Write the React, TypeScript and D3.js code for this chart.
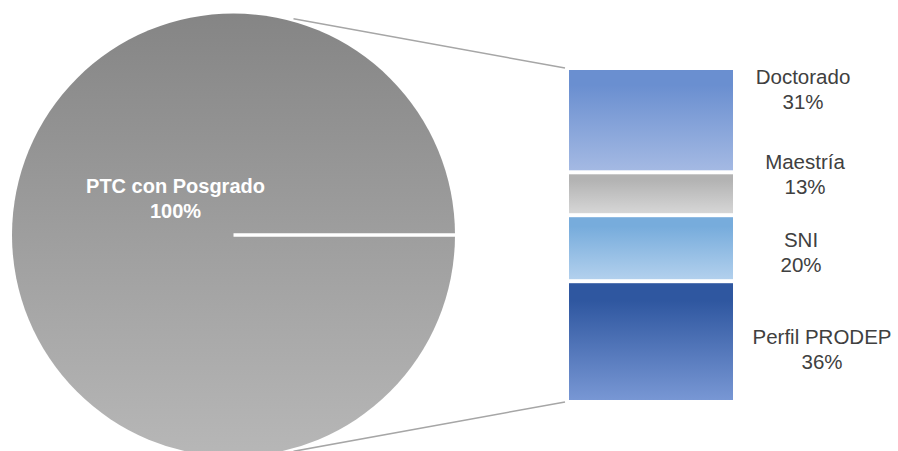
import React from "react";
import * as d3 from "d3";

// ---- data ----
const pieCategories = ["PTC con Posgrado"];
const pieValues = [100];
const barCategories = ["Doctorado", "Maestría", "SNI", "Perfil PRODEP"];
const barValues = [31, 13, 20, 36];

// ---- styles / layout ----
const W = 898;
const H = 451;
const FONT = "Arial, 'Liberation Sans', sans-serif";
const barColors: [string, string][] = [
  ["#6a8fd0", "#a4b9e3"],
  ["#b3b3b3", "#d6d6d6"],
  ["#77acdc", "#b2d0ed"],
  ["#2f57a0", "#7897d4"],
];
const labelNudges: [number, number][] = [
  [70, -37],
  [72, -24.5],
  [68, -1],
  [89, 3.5],
];

export default function App() {
  const cx = 233.5;
  const cy = 235;
  const r = 221.5;

  const pie = d3.pie<number>().sort(null).startAngle(Math.PI / 2).endAngle(Math.PI / 2 + 2 * Math.PI)(pieValues);
  const arc = d3.arc<d3.PieArcDatum<number>>().innerRadius(0).outerRadius(r);

  const barX0 = 569;
  const barX1 = 733;
  const y = d3.scaleLinear().domain([0, d3.sum(barValues)]).range([70, 400]);
  const stacked = d3.stack<number[]>().keys(barCategories.map((_, i) => String(i)))
    ([barValues.reduce((o: any, v, i) => ((o[String(i)] = v), o), {})] as any);
  const gap = 2;
  const n = barValues.length;

  const connAngle = (15.5 * Math.PI) / 180;
  const rc = r + 3;
  const topPt = [cx + rc * Math.sin(connAngle), cy - rc * Math.cos(connAngle)];
  const botPt = [cx + rc * Math.sin(connAngle), cy + rc * Math.cos(connAngle)];
  const line = d3.line();

  return (
    <svg width={W} height={H} style={{ position: "absolute", left: 0, top: 0, background: "#fff" }} fontFamily={FONT}>
      <defs>
        <linearGradient id="pieGrad" x1="0" y1="0" x2="0" y2="1">
          <stop offset="0" stopColor="#858585" />
          <stop offset="1" stopColor="#b7b7b7" />
        </linearGradient>
        {barColors.map((c, i) => (
          <linearGradient key={i} id={`barGrad${i}`} x1="0" y1="0" x2="0" y2="1">
            <stop offset="0.15" stopColor={c[0]} />
            <stop offset="1" stopColor={c[1]} />
          </linearGradient>
        ))}
      </defs>

      {/* connector lines */}
      <path d={line([topPt as [number, number], [barX0 - 4, y(0) - 2]]) || ""} stroke="#a6a6a6" strokeWidth={1.5} fill="none" />
      <path d={line([botPt as [number, number], [barX0 - 4, y(d3.sum(barValues)) + 2]]) || ""} stroke="#a6a6a6" strokeWidth={1.5} fill="none" />

      {/* pie */}
      <g transform={`translate(${cx},${cy})`}>
        {pie.map((d, i) => (
          <path key={i} d={arc(d) || ""} fill="url(#pieGrad)" stroke="none" />
        ))}
        <line x1={0} y1={0} x2={r} y2={0} stroke="#fff" strokeWidth={3.5} />
        <text x={-58} y={-42} textAnchor="middle" fill="#fff" fontWeight="bold" fontSize={20}>
          <tspan x={-58}>{pieCategories[0]}</tspan>
          <tspan x={-58} dy={25}>{`${pieValues[0]}%`}</tspan>
        </text>
      </g>

      {/* bar */}
      {stacked.map((s, i) => {
        const seg = s[0];
        const top = y(seg[0]) + (i > 0 ? gap : 0);
        const bot = y(seg[1]) - (i < n - 1 ? gap : 0);
        const mid = (y(seg[0]) + y(seg[1])) / 2;
        const lx = barX1 + labelNudges[i][0];
        const ly = mid + labelNudges[i][1];
        return (
          <g key={i}>
            <rect x={barX0} y={top} width={barX1 - barX0} height={bot - top} fill={`url(#barGrad${i})`} />
            <text x={lx} y={ly} textAnchor="middle" fill="#404040" fontSize={20.5}>
              <tspan x={lx}>{barCategories[i]}</tspan>
              <tspan x={lx} dy={25}>{`${barValues[i]}%`}</tspan>
            </text>
          </g>
        );
      })}
    </svg>
  );
}
